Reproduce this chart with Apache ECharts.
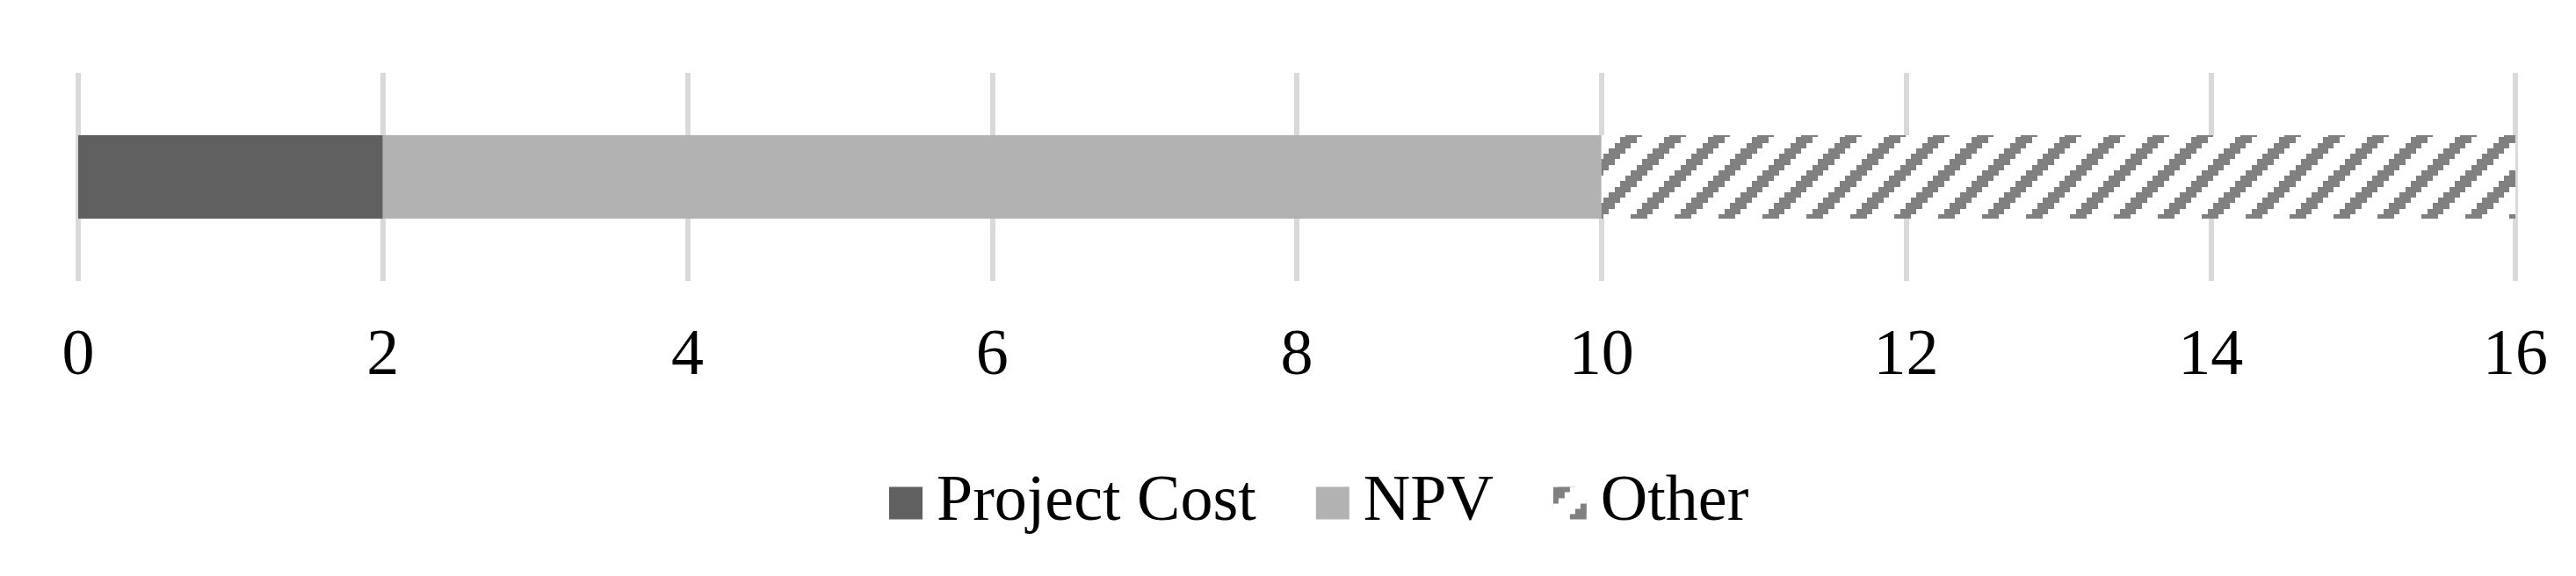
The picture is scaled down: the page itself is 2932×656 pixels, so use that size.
<!DOCTYPE html>
<html lang="en">
<head>
    <meta charset="UTF-8">
    <title>Project Cost / NPV / Other</title>
    <script src="https://cdn.jsdelivr.net/npm/echarts@6/dist/echarts.min.js"></script>
    <style>
        body{
            margin: 0;
            background: #fff;
        }
    </style>
</head>
<body>
    <div id="myChart" style="width: 2932px;height:656px;"></div>

    <script>
        var categories = ['Project'];
        var seriesNames = ['Project Cost', 'NPV', 'Other'];
        var projectCost = [2];
        var npv = [8];
        var other = [6];
        var tickValues = [0, 2, 4, 6, 8, 10, 12, 14, 16];

        // hatch fill for "Other": 8x8 upward diagonal, scaled up
        function makeHatch() {
            var cell = 6.25, n = 8;
            var c = document.createElement('canvas');
            c.width = 50; c.height = 50;
            var ctx = c.getContext('2d');
            ctx.fillStyle = '#ffffff';
            ctx.fillRect(0, 0, 50, 50);
            ctx.fillStyle = '#808080';
            for (var y = 0; y < n; y++) {
                for (var x = 0; x < n; x++) {
                    if ((x + y) % n < 3) {
                        var x0 = Math.round(x * cell), y0 = Math.round(y * cell);
                        ctx.fillRect(x0, y0, Math.round((x + 1) * cell) - x0, Math.round((y + 1) * cell) - y0);
                    }
                }
            }
            return c;
        }

        var font = "'Liberation Serif', 'Times New Roman', serif";
        var myChart = echarts.init(document.getElementById('myChart'));
        var option = {
            animation: false,
            backgroundColor: '#fff',
            grid: {
                left: 89,
                right: 69,
                top: 83,
                height: 237
            },
            legend: {
                data: seriesNames,
                left: 1007,
                top: 531,
                itemWidth: 38,
                itemHeight: 37,
                itemGap: 68,
                icon: 'rect',
                textStyle: {
                    fontFamily: font,
                    fontSize: 74,
                    color: '#000',
                    padding: [0, 0, 0, 11]
                }
            },
            xAxis: {
                type: 'value',
                min: tickValues[0],
                max: tickValues[tickValues.length - 1],
                interval: 2,
                axisLine: {show: false},
                axisTick: {show: false},
                splitLine: {
                    show: true,
                    lineStyle: {color: '#d9d9d9', width: 6}
                },
                axisLabel: {
                    margin: 50,
                    fontFamily: font,
                    fontSize: 74,
                    color: '#000'
                }
            },
            yAxis: {
                type: 'category',
                data: categories,
                show: false
            },
            series: [
                {
                    name: seriesNames[0],
                    type: 'bar',
                    stack: 'total',
                    barWidth: 95,
                    itemStyle: {color: '#606060'},
                    data: projectCost
                },
                {
                    name: seriesNames[1],
                    type: 'bar',
                    stack: 'total',
                    barWidth: 95,
                    itemStyle: {color: '#b2b2b2'},
                    data: npv
                },
                {
                    name: seriesNames[2],
                    type: 'bar',
                    stack: 'total',
                    barWidth: 95,
                    itemStyle: {color: {image: makeHatch(), repeat: 'repeat'}},
                    data: other
                }
            ]
        };
        myChart.setOption(option);
    </script>
</body>
</html>
